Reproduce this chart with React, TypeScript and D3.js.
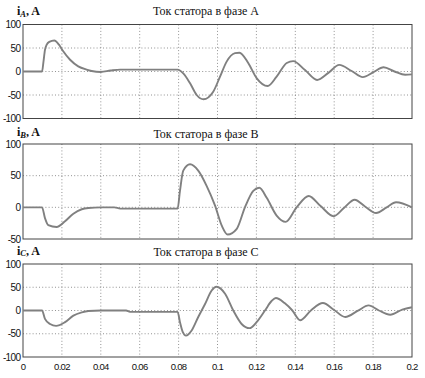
import React from 'react';
import * as d3 from 'd3';

const xTickValues = [0, 0.02, 0.04, 0.06, 0.08, 0.1, 0.12, 0.14, 0.16, 0.18, 0.2];
const yTicksAC = [-100, -50, 0, 50, 100];
const yTicksB = [-50, 0, 50, 100];

const titles = ['Ток статора в фазе A', 'Ток статора в фазе B', 'Ток статора в фазе C'];
const phaseSubs = ['A', 'B', 'C'];

const tA = [0, 0.0098, 0.0105, 0.0113, 0.0122, 0.0135, 0.0161, 0.0185, 0.0205, 0.0242, 0.0284, 0.0327, 0.0353, 0.04, 0.045, 0.05, 0.06, 0.07, 0.0795, 0.0824, 0.0859, 0.0893, 0.0928, 0.0978, 0.1013, 0.1047, 0.109, 0.1113, 0.1158, 0.1201, 0.1258, 0.1304, 0.1356, 0.1389, 0.145, 0.1512, 0.157, 0.1626, 0.169, 0.1747, 0.18, 0.1854, 0.191, 0.1965, 0.2];
const iA = [0, 0, 20, 46, 57, 63, 66, 57, 44, 25, 11, 4, 1, -1, 2, 4, 4, 4, 4, -4, -25, -50, -59, -43, -11, 21, 39, 40, 18, -14, -31, -11, 18, 22, 3, -18, -3, 14, 1, -12, -2, 9, 0, -7, -6];

const tB = [0, 0.0098, 0.0113, 0.013, 0.0173, 0.0216, 0.0259, 0.0302, 0.0336, 0.04, 0.047, 0.05, 0.06, 0.07, 0.0795, 0.0807, 0.0824, 0.0859, 0.0901, 0.0944, 0.0987, 0.1022, 0.1052, 0.1099, 0.1141, 0.1184, 0.1215, 0.1253, 0.1304, 0.135, 0.1407, 0.1469, 0.153, 0.1597, 0.165, 0.1705, 0.176, 0.1815, 0.187, 0.1918, 0.2];
const iB = [0, 0, -17, -28, -31, -22, -10, -3, -1, 0, 0, -2, -2, -2, -2, 26, 58, 68, 58, 34, 3, -29, -43, -34, 0, 26, 31, 15, -13, -23, 0, 18, 2, -14, -1, 12, 1, -9, 0, 8, 0];

const tC = [0, 0.0098, 0.0113, 0.0139, 0.017, 0.0216, 0.0259, 0.0302, 0.0336, 0.04, 0.053, 0.055, 0.07, 0.0795, 0.0807, 0.0821, 0.0838, 0.0867, 0.0901, 0.0936, 0.097, 0.0995, 0.1039, 0.1081, 0.1124, 0.1165, 0.1201, 0.1244, 0.1279, 0.1300, 0.1345, 0.1385, 0.1425, 0.148, 0.1542, 0.16, 0.1657, 0.172, 0.1777, 0.183, 0.1888, 0.195, 0.2];
const iC = [0, 0, -18, -29, -33, -25, -11, -4, -1, 0, 0, -3, -3, -3, -25, -46, -54, -43, -14, 14, 43, 51, 36, 0, -29, -38, -25, 0, 21, 27, 16, 0, -21, 0, 16, 1, -14, -1, 11, 0, -9, 2, 7];

const W = 425;
const H = 378;
const X0 = 23;
const X1 = 412;

const panelDefs = [
  { t: tA, v: iA, ticks: yTicksAC, top: 24.5, bottom: 118.5, titleY: 15, labelY: 15, showX: false },
  { t: tB, v: iB, ticks: yTicksB, top: 144, bottom: 239, titleY: 137.5, labelY: 136, showX: false },
  { t: tC, v: iC, ticks: yTicksAC, top: 264, bottom: 357, titleY: 256, labelY: 254.5, showX: true },
];

const x = d3.scaleLinear().domain([0, 0.2]).range([X0, X1]);
const tickFont = '"Liberation Sans", Arial, sans-serif';
const serif = '"Liberation Serif", "Times New Roman", serif';

export default function App() {
  return (
    <svg width={W} height={H} style={{ position: 'absolute', left: 0, top: 0, background: '#fff' }}>
      <rect x={0} y={0} width={W} height={H} fill="#fff" />
      {panelDefs.map((p, k) => {
        const dom = d3.extent(p.ticks) as [number, number];
        const y = d3.scaleLinear().domain(dom).range([p.bottom, p.top]);
        const pts = p.t.map((tt, i) => [tt, p.v[i]] as [number, number]);
        const line = d3.line<[number, number]>()
          .x(d => x(d[0]))
          .y(d => y(d[1]))
          .curve(d3.curveMonotoneX);
        return (
          <g key={k}>
            {xTickValues.slice(1, -1).map(tv => (
              <line key={'gx' + tv} x1={x(tv)} x2={x(tv)} y1={p.top} y2={p.bottom}
                stroke="#777" strokeWidth={0.8} strokeDasharray="1,2.2" />
            ))}
            {p.ticks.slice(1, -1).map(tv => (
              <line key={'gy' + tv} x1={X0} x2={X1} y1={y(tv)} y2={y(tv)}
                stroke="#777" strokeWidth={0.8} strokeDasharray="1,2.2" />
            ))}
            <rect x={X0} y={p.top} width={X1 - X0} height={p.bottom - p.top}
              fill="none" stroke="#444" strokeWidth={1} />
            <path d={line(pts) || ''} fill="none" stroke="#808080" strokeWidth={1.9} strokeLinejoin="round" />
            {p.ticks.map(tv => (
              <text key={'ly' + tv} x={X0 - 2.5} y={y(tv) + 3.5} textAnchor="end"
                fontFamily={tickFont} fontSize={10} letterSpacing={-0.6} fill="#111">{tv}</text>
            ))}
            {p.showX && xTickValues.map(tv => (
              <text key={'lx' + tv} x={x(tv)} y={370} textAnchor="middle"
                fontFamily={tickFont} fontSize={9.5} letterSpacing={-0.7} fill="#111">{String(+tv.toFixed(2))}</text>
            ))}
            <text x={206} y={p.titleY} textAnchor="middle" fontFamily={serif} fontSize={12} fill="#111">{titles[k]}</text>
            <text x={17} y={p.labelY} fontFamily={serif} fontSize={12} fontWeight="bold" fill="#111">
              i<tspan fontSize={8.5} fontStyle="italic" dy={1.8}>{phaseSubs[k]}</tspan><tspan dy={-1.8}>, A</tspan>
            </text>
          </g>
        );
      })}
    </svg>
  );
}
